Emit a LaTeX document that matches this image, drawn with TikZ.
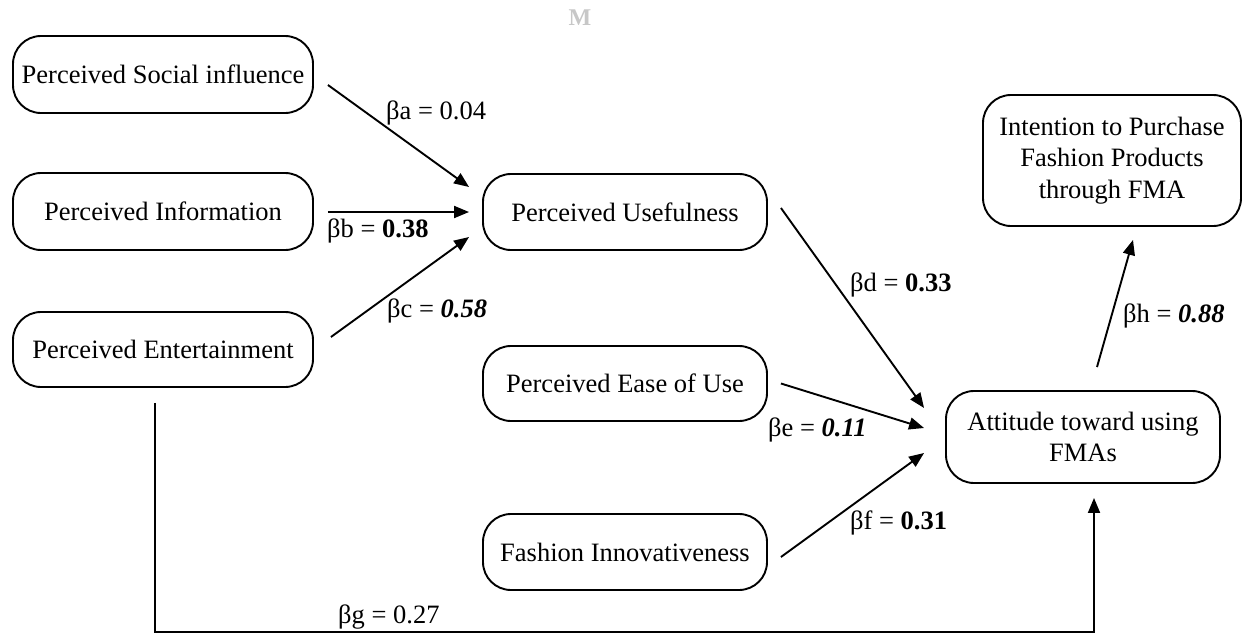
\documentclass[tikz,border=0pt]{standalone}
\usepackage{fontspec}
\setmainfont{Liberation Serif}
\usetikzlibrary{calc,arrows.meta}
\begin{document}
\begin{tikzpicture}[x=1pt,y=-1pt,
  every node/.style={font=\fontsize{26.5pt}{31.5pt}\selectfont},
  box/.style={draw, line width=1.9pt, rounded corners=28pt, align=center, inner sep=0pt},
  conn/.style={line width=1.9pt, -{Triangle[length=15pt,width=12pt]}},
  lab/.style={inner sep=0pt, anchor=base west}]
\useasboundingbox (0,0) rectangle (1251,635);
\node[text=black!22, font=\fontsize{24pt}{26pt}\selectfont\bfseries] (wm) at (580,18) {M};
\node[box, minimum width=300pt, minimum height=77pt] (soc) at (163,74.5) {Perceived Social influence};
\node[box, minimum width=300pt, minimum height=77pt] (inf) at (163,211.5) {Perceived Information};
\node[box, minimum width=300pt, minimum height=75pt] (ent) at (163,349.5) {Perceived Entertainment};
\node[box, minimum width=284pt, minimum height=76pt] (use) at (625,212) {Perceived Usefulness};
\node[box, minimum width=284pt, minimum height=75pt] (ease) at (625,383.5) {Perceived Ease of Use};
\node[box, minimum width=284pt, minimum height=76pt] (fash) at (625,552) {Fashion Innovativeness};
\node[box, minimum width=274pt, minimum height=92pt] (att) at (1083,437) {Attitude toward using\\FMAs};
\node[box, minimum width=258pt, minimum height=131pt] (int) at (1112,160.5) {Intention to Purchase\\Fashion Products\\through FMA};
% connectors
\draw[conn] ($(soc.east)+(14,10.5)$) -- ($(use.west)+(-13,-25)$);
\draw[conn] ($(inf.east)+(14,0.5)$) -- ($(use.west)+(-13,0)$);
\draw[conn] ($(ent.east)+(17,-12.5)$) -- ($(use.west)+(-13,25)$);
\draw[conn] ($(use.east)+(13,-4)$) -- ($(att.west)+(-21,-29)$);
\draw[conn] ($(ease.east)+(13,0)$) -- ($(att.west)+(-21,-9)$);
\draw[conn] ($(fash.east)+(13,5)$) -- ($(att.west)+(-21,16)$);
\draw[conn] ($(att.north)+(14,-23)$) -- ($(int.south)+(21,13)$);
\coordinate (g1) at ($(ent.south)+(-8,15)$);
\coordinate (g2) at ($(att.south)+(11,14)$);
\draw[conn] (g1) -- (g1 |- 0,632) -- (g2 |- 0,632) -- (g2);
% labels
\node[lab] (la) at (386,119) {βa = 0.04};
\node[lab] (lb) at (327,237) {βb = \textbf{0.38}};
\node[lab] (lc) at (387,317) {βc = \textbf{\textit{0.58}}};
\node[lab] (ld) at (850,291) {βd = \textbf{0.33}};
\node[lab] (le) at (768,436) {βe = \textbf{\textit{0.11}}};
\node[lab] (lf) at (850,529) {βf = \textbf{0.31}};
\node[lab] (lg) at (338,623) {βg = 0.27};
\node[lab] (lh) at (1123,322) {βh = \textbf{\textit{0.88}}};
\end{tikzpicture}
\end{document}
